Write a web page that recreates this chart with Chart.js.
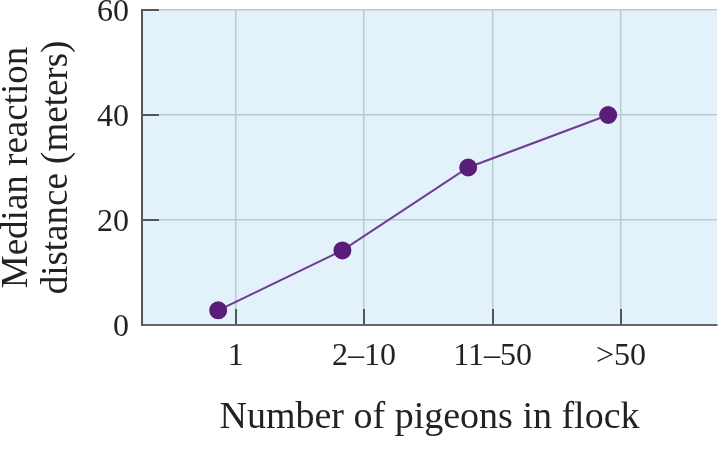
<!DOCTYPE html>
<html>
<head>
<meta charset="utf-8">
<script src="https://cdn.jsdelivr.net/npm/chart.js@4"></script>
<style>
html,body{margin:0;padding:0;background:#fff;}
#wrap{width:727px;height:449px;}
</style>
</head>
<body>
<div id="wrap"><canvas id="c" width="727" height="449"></canvas></div>
<script>
// Data
const categories = ['1', '2–10', '11–50', '>50'];
const categoryPositions = [1, 2, 3, 4];
const pointPositions = [0.864, 1.831, 2.81, 3.90];
const medianDistance = [2.8, 14.2, 30, 40];
const yTicks = [0, 20, 40, 60];

const points = medianDistance.map((v, i) => ({x: pointPositions[i], y: v}));

const serif = '"Liberation Serif", "Times New Roman", serif';

const bgPlugin = {
  id: 'bg',
  beforeDraw(chart) {
    const {ctx, chartArea: a} = chart;
    ctx.save();
    ctx.fillStyle = '#e2f1fa';
    ctx.fillRect(a.left, a.top, a.right - a.left, a.bottom - a.top);
    ctx.restore();
  }
};

const innerTicks = {
  id: 'innerTicks',
  beforeDatasetsDraw(chart) {
    const {ctx, chartArea: a, scales: {x, y}} = chart;
    ctx.save();
    ctx.strokeStyle = '#555';
    ctx.lineWidth = 2;
    ctx.beginPath();
    categoryPositions.forEach(v => {
      const px = Math.round(x.getPixelForValue(v));
      ctx.moveTo(px, a.bottom);
      ctx.lineTo(px, a.bottom - 16);
    });
    yTicks.filter(v => v > 0).forEach(v => {
      const py = Math.round(y.getPixelForValue(v));
      ctx.moveTo(a.left, py);
      ctx.lineTo(a.left + 17, py);
    });
    ctx.stroke();
    ctx.restore();
  }
};

function noPad(scale) {
  scale.paddingTop = 0;
  scale.paddingBottom = 0;
  scale.paddingLeft = 0;
  scale.paddingRight = 0;
}

new Chart(document.getElementById('c'), {
  type: 'line',
  data: {
    datasets: [{
      data: points,
      borderColor: '#6e3d8e',
      borderWidth: 2,
      pointBackgroundColor: '#5a1e78',
      pointBorderColor: '#5a1e78',
      pointRadius: 8,
      pointHoverRadius: 8,
      tension: 0,
      fill: false
    }]
  },
  options: {
    responsive: false,
    animation: false,
    devicePixelRatio: 1,
    layout: {padding: {top: 8, right: 10, bottom: 0, left: 0}},
    plugins: {legend: {display: false}, tooltip: {enabled: false}},
    scales: {
      x: {
        type: 'linear',
        min: 0.271,
        max: 4.747,
        afterBuildTicks(scale) {
          scale.ticks = categoryPositions.map(v => ({value: v}));
        },
        afterFit(scale) { scale.height = 124; noPad(scale); },
        ticks: {
          callback: (v) => {
            const i = categoryPositions.indexOf(v);
            return i >= 0 ? categories[i] : '';
          },
          color: '#222',
          padding: 12,
          maxRotation: 0,
          autoSkip: false,
          font: {family: serif, size: 32}
        },
        grid: {color: '#bac9d3', lineWidth: 1.5, drawTicks: false},
        border: {display: true, color: '#666', width: 2},
        title: {
          display: true,
          text: 'Number of pigeons in flock',
          color: '#222',
          font: {family: serif, size: 38, lineHeight: 1.2},
          padding: {top: 0, bottom: 8}
        }
      },
      y: {
        type: 'linear',
        min: 0,
        max: 60,
        afterBuildTicks(scale) {
          scale.ticks = yTicks.map(v => ({value: v}));
        },
        afterFit(scale) { scale.width = 142; noPad(scale); },
        ticks: {
          color: '#222',
          padding: 13,
          labelOffset: 3,
          font: {family: serif, size: 32}
        },
        grid: {color: '#bac9d3', lineWidth: 1.5, drawTicks: false},
        border: {display: true, color: '#555', width: 2},
        title: {
          display: true,
          text: ['Median reaction', 'distance (meters)'],
          color: '#222',
          font: {family: serif, size: 37, lineHeight: 1.06},
          padding: {top: -2, bottom: 0}
        }
      }
    }
  },
  plugins: [bgPlugin, innerTicks]
});
</script>
</body>
</html>
